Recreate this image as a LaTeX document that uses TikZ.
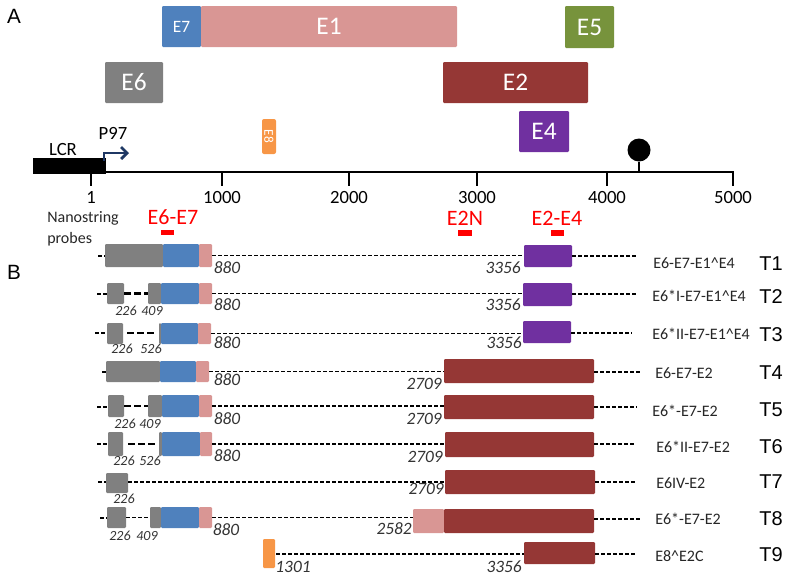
\documentclass[tikz,border=0pt]{standalone}
\usepackage{fontspec}
\setmainfont{Carlito}
\newfontfamily\arialf{Liberation Sans}
\usetikzlibrary{arrows.meta}
\definecolor{cEseven}{HTML}{4F81BD}
\definecolor{cEone}{HTML}{D99694}
\definecolor{cEfive}{HTML}{77933C}
\definecolor{cEsix}{HTML}{808080}
\definecolor{cEtwo}{HTML}{953735}
\definecolor{cEfour}{HTML}{7030A0}
\definecolor{cEeight}{HTML}{F79646}
\definecolor{cnavy}{HTML}{1F3864}
\definecolor{cprobe}{HTML}{FF0000}
\newcommand\bx[7]{\node[exon,fill=#2,minimum width={(#5-#3)*0.75pt},minimum height={(#6-#4)*0.75pt},anchor=north west] (#1) at (#3,#4) {#7};}
\begin{document}
\begin{tikzpicture}[x=0.75pt,y=-0.75pt,
  exon/.style={inner sep=0pt,outer sep=0pt,draw=none,text=white,rounded corners=0.8pt},
  dl/.style={line width=1.45pt,dash pattern=on 3pt off 1.5pt},
  tdl/.style={line width=2.2pt,dash pattern=on 5pt off 2.5pt},
  num/.style={font=\itshape\fontsize{13}{14}\selectfont,text=black!80,inner sep=0pt},
  snum/.style={font=\itshape\fontsize{10.5}{11}\selectfont,text=black!80,inner sep=0pt},
  rlab/.style={anchor=west,font=\fontsize{12}{13}\selectfont,text=black!85,inner sep=0pt},
  tlab/.style={font=\arialf\fontsize{15}{16}\selectfont,inner sep=0pt},
  ticklab/.style={font=\fontsize{14}{15}\selectfont,inner sep=0pt},
  plab/.style={font=\fontsize{16.5}{17}\selectfont,text=cprobe,inner sep=0pt}
]
\useasboundingbox (0,0) rectangle (791,583);
% panel letters
\node[font=\arialf\fontsize{15.5}{16}\selectfont] (A) at (14,16) {A};
\node[font=\arialf\fontsize{15.5}{16}\selectfont] (B) at (14,272) {B};
% genome map exons
\bx{E7}{cEseven}{162}{6}{201}{47}{\fontsize{13}{14}\selectfont E7}
\bx{E1}{cEone}{201}{6}{457}{47}{\fontsize{19}{20}\selectfont E1}
\bx{E5}{cEfive}{565}{6}{614}{48}{\fontsize{19}{20}\selectfont E5}
\bx{E6}{cEsix}{105}{62}{163}{103}{\fontsize{19}{20}\selectfont E6}
\bx{E2}{cEtwo}{443}{62}{588}{103}{\fontsize{19}{20}\selectfont E2}
\bx{E4}{cEfour}{519}{111}{569}{152}{\fontsize{19}{20}\selectfont E4}
\node[exon,fill=cEeight,rounded corners=1.5pt,minimum width={14*0.75pt},minimum height={35*0.75pt},anchor=north west] (E8) at (262,119) {};
\node[rotate=-90,text=white,inner sep=0pt,font=\fontsize{10}{11}\selectfont] (E8t) at (E8.center) {E8};
% axis
\coordinate (axL) at (34,172);
\coordinate (axR) at (734,172);
\draw[line width=1.6pt] (axL) -- (axR);
\node[fill=black,inner sep=0pt,minimum width={73*0.75pt},minimum height={16*0.75pt},anchor=north west] (LCR) at (33,158) {};
\node[font=\fontsize{14}{15}\selectfont,inner sep=0pt] (LCRt) at (63,149) {LCR};
\node[font=\fontsize{14}{15}\selectfont,inner sep=0pt] (P97) at (113,133) {P97};
\coordinate (pa) at (104,161);
\coordinate (pb) at (104,153);
\coordinate (pc) at (129,153);
\draw[cnavy,line width=2pt,-{Straight Barb[length=4.5pt,width=9pt,line width=2pt]}] (pa) -- (pb) -- (pc);
\foreach \xx/\lab/\nm in {91/1/t0,222/1000/t1,349/2000/t2,477/3000/t3,607/4000/t4,733/5000/t5}{
  \coordinate (\nm a) at (\xx,172);
  \coordinate (\nm b) at (\xx,186);
  \draw[line width=1.2pt] (\nm a) -- (\nm b);
  \node[ticklab] (\nm l) at (\xx,197) {\lab};
}
% lollipop
\node[circle,fill=black,inner sep=0pt,minimum size={23*0.75pt}] (pA) at (639,150) {};
\coordinate (pAb) at (639,172);
\draw[line width=1.4pt] (pA.south) -- (pAb);
% probes
\node[align=left,anchor=west,inner sep=0pt,font=\fontsize{12}{15.5}\selectfont,text=black!85] (ns) at (47,229) {Nanostring\\probes};
\node[plab] (pr1) at (173,217) {E6-E7};
\node[plab] (pr2) at (465,218) {E2N};
\node[plab] (pr3) at (557,218) {E2-E4};
\node[fill=cprobe,inner sep=0pt,minimum width={13*0.75pt},minimum height={5.5*0.75pt}] (b1) at (167.5,232.5) {};
\node[fill=cprobe,inner sep=0pt,minimum width={14*0.75pt},minimum height={5.5*0.75pt}] (b2) at (464.5,233) {};
\node[fill=cprobe,inner sep=0pt,minimum width={13*0.75pt},minimum height={5.5*0.75pt}] (b3) at (557.5,233) {};
% ---------- T1
\bx{ga1}{cEsix}{105}{244}{163}{267}{}
\bx{b1x}{cEseven}{163}{244}{199}{267}{}
\bx{p1}{cEone}{199}{244}{212}{267}{}
\bx{u1}{cEfour}{524}{245}{572}{267}{}
\coordinate (s1) at (98,256);
\coordinate (e1) at (637,256);
\draw[dl] (s1) -- (s1 -| ga1.west);
\draw[dl] (p1.east) -- (p1.east -| u1.west);
\draw[dl] (u1.east |- e1) -- (e1);
\node[num] (n1a) at (227,268) {880};
\node[num,anchor=east] (n1b) at (521,268) {3356};
\node[rlab] (l1) at (653,263) {E6-E7-E1\^{}E4};
\node[tlab] (T1) at (771,264) {T1};
% ---------- T2
\bx{ga2}{cEsix}{107}{283}{124}{304}{}
\bx{gb2}{cEsix}{148}{283}{161}{304}{}
\bx{b2}{cEseven}{161}{283}{199}{304}{}
\bx{p2}{cEone}{199}{283}{212}{304}{}
\bx{u2}{cEfour}{523}{283}{572}{306}{}
\coordinate (s2) at (97,294);
\coordinate (e2) at (637,294);
\draw[dl] (s2) -- (s2 -| ga2.west);
\draw[tdl] (ga2.east) -- (ga2.east -| gb2.west);
\draw[dl] (p2.east) -- (p2.east -| u2.west);
\draw[dl] (u2.east |- e2) -- (e2);
\node[snum] (n2a) at (126,311) {226};
\node[snum] (n2b) at (152,311) {409};
\node[num] (n2c) at (227,305) {880};
\node[num,anchor=east] (n2d) at (521,305) {3356};
\node[rlab] (l2) at (652,296) {E6*I-E7-E1\^{}E4};
\node[tlab] (T2) at (771,297) {T2};
% ---------- T3
\bx{ga3}{cEsix}{107}{323}{123}{344}{}
\bx{gb3}{cEsix}{159}{323}{161}{344}{}
\bx{b3x}{cEseven}{161}{323}{198}{344}{}
\bx{p3}{cEone}{198}{323}{211}{344}{}
\bx{u3}{cEfour}{523}{321}{571}{343}{}
\coordinate (s3) at (95,333);
\coordinate (e3) at (632,333);
\coordinate (d3a) at (127,333);
\coordinate (d3b) at (156,333);
\draw[dl] (s3) -- (s3 -| ga3.west);
\draw[tdl] (d3a) -- (d3b);
\draw[dl] (p3.east) -- (p3.east -| u3.west);
\draw[dl] (u3.east |- e3) -- (e3);
\node[snum] (n3a) at (122,349) {226};
\node[snum] (n3b) at (151,349) {526};
\node[num] (n3c) at (227,343) {880};
\node[num,anchor=east] (n3d) at (522,343) {3356};
\node[rlab] (l3) at (652,334) {E6*II-E7-E1\^{}E4};
\node[tlab] (T3) at (771,335) {T3};
% ---------- T4
\bx{ga4}{cEsix}{106}{361}{160}{382}{}
\bx{b4}{cEseven}{160}{361}{196}{382}{}
\bx{p4}{cEone}{196}{361}{209}{382}{}
\bx{r4}{cEtwo}{444}{359}{594}{383}{}
\coordinate (s4) at (102,372);
\coordinate (e4) at (640,372);
\draw[dl] (s4) -- (s4 -| ga4.west);
\draw[dl] (p4.east) -- (p4.east -| r4.west);
\draw[dl] (r4.east |- e4) -- (e4);
\node[num] (n4a) at (227,380) {880};
\node[num,anchor=east] (n4b) at (442,384) {2709};
\node[rlab] (l4) at (655,373) {E6-E7-E2};
\node[tlab] (T4) at (771,373) {T4};
% ---------- T5
\bx{ga5}{cEsix}{108}{395}{124}{417}{}
\bx{gb5}{cEsix}{148}{395}{162}{417}{}
\bx{b5}{cEseven}{162}{395}{199}{417}{}
\bx{p5}{cEone}{199}{395}{212}{417}{}
\bx{r5}{cEtwo}{444}{395}{594}{419}{}
\coordinate (s5) at (97,407);
\coordinate (e5) at (637,407);
\draw[dl] (s5) -- (s5 -| ga5.west);
\draw[tdl] (ga5.east) -- (ga5.east -| gb5.west);
\draw[dl] (p5.east) -- (p5.east -| r5.west);
\draw[dl] (r5.east |- e5) -- (e5);
\node[snum] (n5a) at (125,424) {226};
\node[snum] (n5b) at (150,424) {409};
\node[num] (n5c) at (227,419) {880};
\node[num,anchor=east] (n5d) at (442,419) {2709};
\node[rlab] (l5) at (652,411) {E6*-E7-E2};
\node[tlab] (T5) at (771,410) {T5};
% ---------- T6
\bx{ga6}{cEsix}{108}{432}{123}{456}{}
\bx{gb6}{cEsix}{159}{432}{162}{456}{}
\bx{b6}{cEseven}{162}{432}{200}{456}{}
\bx{p6}{cEone}{200}{432}{212}{456}{}
\bx{r6}{cEtwo}{445}{432}{594}{457}{}
\coordinate (s6) at (97,444);
\coordinate (e6) at (636,444);
\coordinate (d6a) at (128,444);
\coordinate (d6b) at (157,444);
\draw[dl] (s6) -- (s6 -| ga6.west);
\draw[tdl] (d6a) -- (d6b);
\draw[dl] (p6.east) -- (p6.east -| r6.west);
\draw[dl] (r6.east |- e6) -- (e6);
\node[snum] (n6a) at (124,461) {226};
\node[snum] (n6b) at (150,461) {526};
\node[num] (n6c) at (227,456) {880};
\node[num,anchor=east] (n6d) at (443,457) {2709};
\node[rlab] (l6) at (656,447) {E6*II-E7-E2};
\node[tlab] (T6) at (771,447) {T6};
% ---------- T7
\bx{ga7}{cEsix}{106}{473}{128}{493}{}
\bx{r7}{cEtwo}{445}{470}{595}{494}{}
\coordinate (s7) at (98,482);
\coordinate (e7) at (635,482);
\draw[dl] (s7) -- (s7 -| ga7.west);
\draw[dl,line width=1.2pt] (ga7.east |- s7) -- (s7 -| r7.west);
\draw[dl] (r7.east |- e7) -- (e7);
\node[snum] (n7a) at (124,499) {226};
\node[num,anchor=east] (n7b) at (444,489) {2709};
\node[rlab] (l7) at (656,483) {E6IV-E2};
\node[tlab] (T7) at (771,482) {T7};
% ---------- T8
\bx{ga8}{cEsix}{107}{507}{126}{528}{}
\bx{gb8}{cEsix}{150}{507}{161}{528}{}
\bx{b8}{cEseven}{161}{507}{199}{528}{}
\bx{p8}{cEone}{199}{507}{212}{528}{}
\bx{k8}{cEone}{413}{509}{444}{533}{}
\bx{r8}{cEtwo}{444}{509}{594}{533}{}
\coordinate (s8) at (100,518);
\coordinate (e8) at (640,519);
\draw[dl] (s8) -- (s8 -| ga8.west);
\draw[dl] (ga8.east) -- (ga8.east -| gb8.west);
\draw[dl] (p8.east) -- (p8.east -| k8.west);
\draw[dl] (r8.east |- e8) -- (e8);
\node[snum] (n8a) at (120,536) {226};
\node[snum] (n8b) at (147,536) {409};
\node[num] (n8c) at (226,530) {880};
\node[num,anchor=east] (n8d) at (412,529) {2582};
\node[rlab] (l8) at (655,519) {E6*-E7-E2};
\node[tlab] (T8) at (771,519) {T8};
% ---------- T9
\bx{o9}{cEeight}{263}{539}{275}{568}{}
\bx{r9}{cEtwo}{524}{542}{595}{564}{}
\coordinate (e9) at (637,554);
\coordinate (s9) at (276,554);
\draw[dl] (s9) -- (s9 -| r9.west);
\draw[dl] (r9.east |- e9) -- (e9);
\node[num] (n9a) at (293,567) {1301};
\node[num,anchor=east] (n9b) at (522,567) {3356};
\node[rlab] (l9) at (655,556) {E8\^{}E2C};
\node[tlab] (T9) at (771,555) {T9};
\end{tikzpicture}
\end{document}
